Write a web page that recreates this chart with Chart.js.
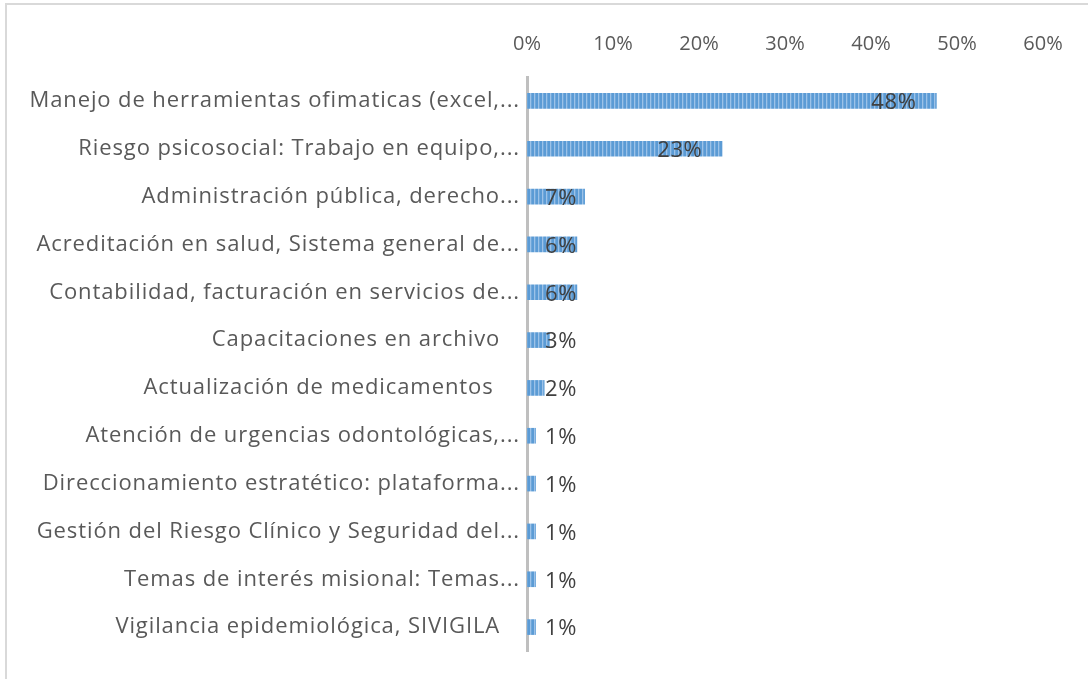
<!DOCTYPE html>
<html>
<head>
<meta charset="utf-8">
<script src="https://cdn.jsdelivr.net/npm/chart.js@4"></script>
<style>
  html, body { margin: 0; padding: 0; background: #fff; overflow: hidden; }
  .frame {
    position: absolute; left: 5px; top: 3px; width: 1200px; height: 800px;
    border-left: 2px solid #d9d9d9; border-top: 2px solid #d9d9d9;
  }
  .wrap { position: absolute; left: 0; top: 0; width: 1088px; height: 679px; }
</style>
</head>
<body>
<div class="frame"></div>
<div class="wrap"><canvas id="trainingChart"></canvas></div>
<script>
// Temas de capacitación - barras horizontales

const topics = [
    'Manejo de herramientas ofimaticas (excel,...',
    'Riesgo psicosocial: Trabajo en equipo,...',
    'Administración pública, derecho...',
    'Acreditación en salud, Sistema general de...',
    'Contabilidad, facturación en servicios de...',
    'Capacitaciones en archivo   ',
    'Actualización de medicamentos    ',
    'Atención de urgencias odontológicas,...',
    'Direccionamiento estratético: plataforma...',
    'Gestión del Riesgo Clínico y Seguridad del...',
    'Temas de interés misional: Temas...',
    'Vigilancia epidemiológica, SIVIGILA   '
];
const shares = [47.6, 22.7, 6.7, 5.8, 5.8, 2.6, 2.0, 1.0, 1.0, 1.0, 1.0, 1.0];
const shareLabels = ['48%', '23%', '7%', '6%', '6%', '3%', '2%', '1%', '1%', '1%', '1%', '1%'];
const axisMax = 60;
const axisStep = 10;

const fontFamily = '"Open Sans"';

function stripePattern() {
    const c = document.createElement('canvas');
    c.width = 4;
    c.height = 1;
    const g = c.getContext('2d');
    g.fillStyle = '#5b9bd5';
    g.fillRect(0, 0, 2, 1);
    g.fillStyle = '#9cc2e8';
    g.fillRect(2, 0, 1, 1);
    g.fillStyle = '#6fa7da';
    g.fillRect(3, 0, 1, 1);
    return g.createPattern(c, 'repeat');
}

// the category labels are a bit wider spaced than Open Sans
const spacedLabels = {
    id: 'spacedLabels',
    afterLayout(chart) {
        const ys = chart.scales.y;
        if (ys._spaced) return;
        const orig = ys.drawLabels;
        ys.drawLabels = function (area) {
            chart.ctx.letterSpacing = '0.9px';
            orig.call(this, area);
            chart.ctx.letterSpacing = '0px';
        };
        ys._spaced = true;
    }
};

// data labels, Excel style: near the bar end but not over the axis
const valueLabels = {
    id: 'valueLabels',
    afterDatasetsDraw(chart) {
        const ctx = chart.ctx;
        const xs = chart.scales.x;
        const meta = chart.getDatasetMeta(0);
        const x0 = xs.getPixelForValue(0);
        ctx.save();
        ctx.font = '22px ' + fontFamily;
        ctx.letterSpacing = '0.6px';
        ctx.fillStyle = '#404040';
        ctx.textAlign = 'left';
        ctx.textBaseline = 'middle';
        meta.data.forEach((bar, i) => {
            const x = Math.max(bar.x - 65, x0 + 18);
            ctx.fillText(shareLabels[i], x, bar.y + 2);
        });
        ctx.letterSpacing = '0px';
        ctx.restore();
    }
};

document.addEventListener('DOMContentLoaded', () => {
    const ctx = document.getElementById('trainingChart');

    new Chart(ctx, {
        type: 'bar',
        data: {
            labels: topics,
            datasets: [{
                data: shares,
                backgroundColor: stripePattern(),
                borderWidth: 0,
                barThickness: 15
            }]
        },
        options: {
            indexAxis: 'y',
            responsive: true,
            maintainAspectRatio: false,
            animation: false,
            layout: {
                padding: { left: 0, right: 45, top: 0, bottom: 28 }
            },
            plugins: {
                legend: { display: false },
                tooltip: { enabled: false }
            },
            scales: {
                x: {
                    position: 'top',
                    min: 0,
                    max: axisMax,
                    grid: { display: false, drawTicks: false },
                    border: { display: false },
                    ticks: {
                        stepSize: axisStep,
                        padding: 21,
                        color: '#595959',
                        font: { family: fontFamily, size: 20 },
                        callback: (v) => v + '%'
                    },
                    afterFit: (scale) => { scale.height = 77; }
                },
                y: {
                    grid: { display: false, drawTicks: false },
                    border: { display: true, color: '#bfbfbf', width: 3 },
                    ticks: {
                        padding: 7,
                        color: '#595959',
                        font: { family: fontFamily, size: 22 }
                    },
                    afterFit: (scale) => { scale.width = 527; }
                }
            }
        },
        plugins: [spacedLabels, valueLabels]
    });
});
</script>
</body>
</html>
